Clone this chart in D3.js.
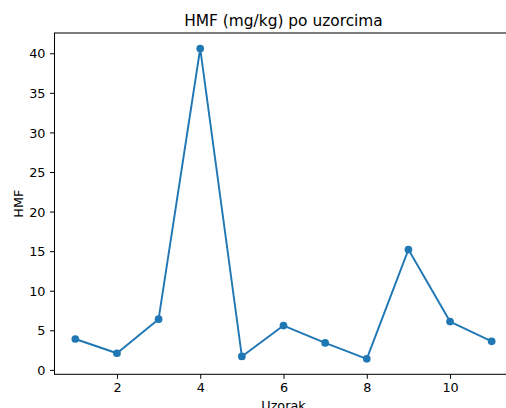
<!DOCTYPE html>
<html>
<head>
<meta charset="utf-8">
<script src="https://cdn.jsdelivr.net/npm/d3@7/dist/d3.min.js"></script>
<style>
  html, body { margin: 0; padding: 0; background: #fff; overflow: hidden; }
  svg { display: block; }
  text { font-family: "DejaVu Sans", sans-serif; fill: #000; }
</style>
</head>
<body>
<svg id="chart" width="506" height="408"></svg>
<script>
const samples = [1, 2, 3, 4, 5, 6, 7, 8, 9, 10, 11];
const hmfValues = [3.9, 2.1, 6.4, 40.6, 1.7, 5.6, 3.4, 1.4, 15.2, 6.1, 3.6];
const xTicks = [2, 4, 6, 8, 10];
const yTicks = [0, 5, 10, 15, 20, 25, 30, 35, 40];
const titleText = "HMF (mg/kg) po uzorcima";
const xLabelText = "Uzorak";
const yLabelText = "HMF";

const svg = d3.select("#chart");
const mLeft = 54.5, mRight = 512.5, mTop = 33, mBottom = 374.3;
const color = "#1f77b4";

const xMin = d3.min(samples), xMax = d3.max(samples);
const xPad = (xMax - xMin) * 0.05;
const yMin = d3.min(hmfValues), yMax = d3.max(hmfValues);
const yPad = (yMax - yMin) * 0.05;

const x = d3.scaleLinear().domain([xMin - xPad, xMax + xPad]).range([mLeft, mRight]);
const y = d3.scaleLinear().domain([yMin - yPad, yMax + yPad]).range([mBottom, mTop]);

const fs = 12.8;

// x axis
const xAxis = svg.append("g").attr("transform", `translate(0,${mBottom})`)
  .call(d3.axisBottom(x).tickValues(xTicks).tickFormat(d3.format("d")).tickSize(4.5).tickPadding(4.5));
xAxis.select(".domain").remove();
xAxis.selectAll(".tick line").attr("stroke", "#000").attr("stroke-width", 1);
xAxis.selectAll(".tick text").attr("font-size", fs).attr("font-family", "DejaVu Sans").attr("fill", "#000").attr("dy", "0.71em");

// y axis
const yAxis = svg.append("g").attr("transform", `translate(${mLeft},0)`)
  .call(d3.axisLeft(y).tickValues(yTicks).tickFormat(d3.format("d")).tickSize(4.5).tickPadding(4.5));
yAxis.select(".domain").remove();
yAxis.selectAll(".tick line").attr("stroke", "#000").attr("stroke-width", 1);
yAxis.selectAll(".tick text").attr("font-size", fs).attr("font-family", "DejaVu Sans").attr("fill", "#000").attr("dy", "0.36em");

// spines
svg.append("rect").attr("x", mLeft).attr("y", mTop).attr("width", mRight - mLeft).attr("height", mBottom - mTop)
  .attr("fill", "none").attr("stroke", "#000").attr("stroke-width", 1.03);

// line
const line = d3.line().x((d, i) => x(samples[i])).y(d => y(d));
svg.append("path").datum(hmfValues).attr("d", line)
  .attr("fill", "none").attr("stroke", color).attr("stroke-width", 1.92).attr("stroke-linejoin", "round");

svg.append("g").selectAll("circle").data(hmfValues).join("circle")
  .attr("cx", (d, i) => x(samples[i])).attr("cy", d => y(d)).attr("r", 3.85).attr("fill", color);

// title
svg.append("text").attr("x", (mLeft + mRight) / 2).attr("y", 25.5).attr("text-anchor", "middle")
  .attr("font-size", 15.4).text(titleText);

// x label
svg.append("text").attr("x", (mLeft + mRight) / 2).attr("y", 409.5).attr("text-anchor", "middle")
  .attr("font-size", fs).text(xLabelText);

// y label
svg.append("text").attr("transform", `translate(23.3,${(mTop + mBottom) / 2}) rotate(-90)`)
  .attr("text-anchor", "middle").attr("font-size", fs).text(yLabelText);
</script>
</body>
</html>
